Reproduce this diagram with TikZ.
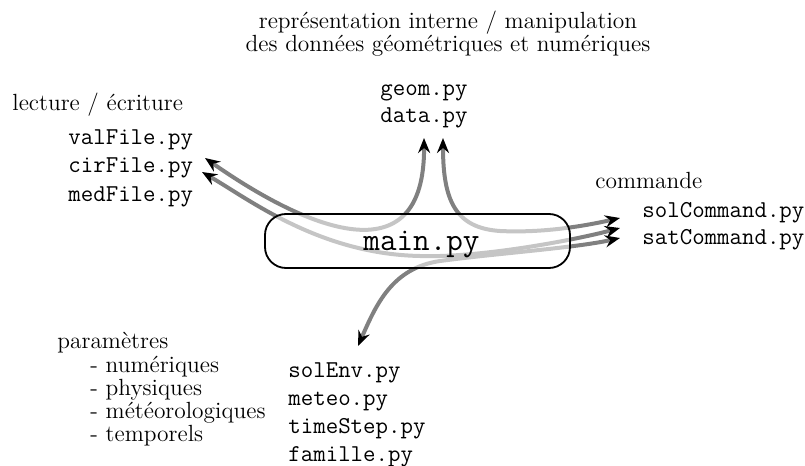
\documentclass[tikz,border=0pt]{standalone}
\usepackage{fontspec}
\usetikzlibrary{arrows.meta}
\definecolor{flowgray}{gray}{0.5}
\begin{document}
\begin{tikzpicture}[x=0.5pt,y=-0.5pt,
  txt/.style={inner sep=0pt,anchor=base west,font=\fontsize{11.7}{11.7}\selectfont},
  caption/.style={inner sep=0pt,anchor=base,font=\fontsize{11.7}{11.7}\selectfont},
  code/.style={inner sep=0pt,anchor=base west,font=\fontsize{12.1}{14}\selectfont\ttfamily},
  flow/.style={draw=flowgray,line width=2pt,{Stealth[black,length=7.5pt,width=6pt,inset=2.5pt]}-{Stealth[black,length=7.5pt,width=6pt,inset=2.5pt]}},
  mainbox/.style={draw=black,line width=0.9pt,rounded corners=10.5pt,fill=white,
    fill opacity=0.55,minimum width=152.5pt,minimum height=27pt,inner sep=0pt}]
\useasboundingbox (0,0) rectangle (805,466);

% module groups
\node[caption] (titleA) at (448,28) {représentation interne / manipulation};
\node[caption] (titleB) at (448,51) {des données géométriques et numériques};
\node[code] (geom) at (380,95) {geom.py};
\node[code] (data) at (380,122) {data.py};

\node[txt] (io) at (12,111) {lecture / écriture};
\foreach \f/\y in {valFile/144,cirFile/172.5,medFile/201}
  \node[code] (\f) at (68,\y) {\f.py};

\node[txt] (cmd) at (595,188) {commande};
\node[code] (solCommand) at (642,217) {solCommand.py};
\node[code] (satCommand) at (642,244) {satCommand.py};

\node[txt] (params) at (57,348) {paramètres};
\foreach \k/\w/\y in {1/numériques/372,2/physiques/395,3/météorologiques/418,4/temporels/441}
  \node[txt] (param\k) at (90,\y) {- \w};
\foreach \f/\y in {solEnv/377,meteo/405,timeStep/433,famille/461}
  \node[code] (\f) at (288,\y) {\f.py};

% arrow ends
\coordinate (cirUp) at (205,158);
\coordinate (cirLow) at (202,172);
\coordinate (dataL) at (424,138);
\coordinate (dataR) at (443,138);
\coordinate (cmdTop) at (620,218);
\coordinate (cmdMid) at (620,228);
\coordinate (cmdBot) at (620,238);
\coordinate (envTip) at (358,346);

% data flows through main.py
\draw[flow] (cirUp) .. controls (305,228) and (425,280) .. (dataL);
\draw[flow] (dataR) .. controls (443,200) and (455,228) .. (500,231)
  .. controls (540,233) and (580,227) .. (cmdTop);
\draw[flow] (cirLow) .. controls (250,200) and (320,254) .. (420,256)
  .. controls (480,258) and (575,240) .. (cmdMid);
\draw[flow] (envTip) .. controls (376,305) and (392,268) .. (440,261)
  .. controls (500,253) and (575,248) .. (cmdBot);

% main program, veiling the flows behind it
\node[mainbox] (main) at (417.5,241) {};
\node[inner sep=0pt,anchor=base,font=\fontsize{16.1}{16}\selectfont\ttfamily] (mainlabel) at (421.5,250) {main.py};
\end{tikzpicture}
\end{document}
